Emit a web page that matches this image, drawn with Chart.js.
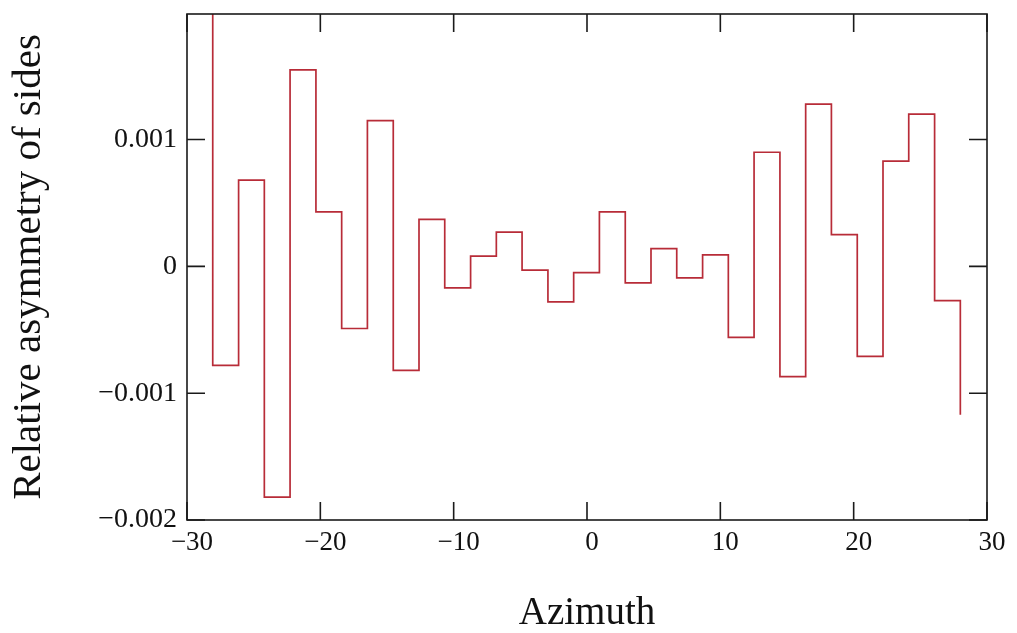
<!DOCTYPE html>
<html>
<head>
<meta charset="utf-8">
<title>Relative asymmetry of sides</title>
<script src="https://cdn.jsdelivr.net/npm/chart.js@4.4.0/dist/chart.umd.min.js"></script>
<style>
    html, body { margin: 0; padding: 0; background: #fff; }
    .wrap { width: 1017px; height: 633px; position: relative; }
</style>
</head>
<body>
<div class="wrap"><canvas id="asymChart"></canvas></div>
<script>
// step trace: each value holds from its azimuth to the next one
const azimuth = [
    -30, -28.07, -26.13, -24.2, -22.27, -20.33, -18.4, -16.47, -14.53, -12.6,
    -10.67, -8.73, -6.8, -4.87, -2.93, -1, 0.93, 2.87, 4.8, 6.73,
    8.67, 10.6, 12.53, 14.47, 16.4, 18.33, 20.27, 22.2, 24.13, 26.07, 28
];

const asymmetry = [
    0.0021, -0.00078, 0.00068, -0.00182, 0.00155, 0.00043, -0.00049, 0.00115, -0.00082, 0.00037,
    -0.00017, 0.00008, 0.00027, -0.00003, -0.00028, -0.00005, 0.00043, -0.00013, 0.00014, -0.00009,
    0.00009, -0.00056, 0.00090, -0.00087, 0.00128, 0.00025, -0.00071, 0.00083, 0.00120, -0.00027,
    -0.00117
];

const xTickValues = [-30, -20, -10, 0, 10, 20, 30];
const yTickValues = [-0.002, -0.001, 0, 0.001];

const SERIF = '"Liberation Serif", "Times New Roman", serif';
const INK = "#111";
const TICK_LEN = 18;

// box around the plot with inward ticks on all four sides
const frameTicks = {
    id: "frameTicks",
    afterDatasetsDraw(chart) {
        const { ctx, chartArea: a, scales: { x, y } } = chart;
        ctx.save();
        ctx.strokeStyle = "#1a1a1a";
        ctx.lineWidth = 1.6;
        ctx.strokeRect(a.left, a.top, a.right - a.left, a.bottom - a.top);
        ctx.beginPath();
        x.ticks.forEach(t => {
            const px = x.getPixelForValue(t.value);
            ctx.moveTo(px, a.bottom); ctx.lineTo(px, a.bottom - TICK_LEN);
            ctx.moveTo(px, a.top); ctx.lineTo(px, a.top + TICK_LEN);
        });
        y.ticks.forEach(t => {
            const py = y.getPixelForValue(t.value);
            ctx.moveTo(a.left, py); ctx.lineTo(a.left + TICK_LEN, py);
            ctx.moveTo(a.right, py); ctx.lineTo(a.right - TICK_LEN, py);
        });
        ctx.stroke();
        ctx.restore();
    }
};

const fmt = v => String(v).replace("-", "\u2212");

new Chart(document.getElementById("asymChart"), {
    type: "line",
    data: {
        datasets: [{
            data: azimuth.map((x, i) => ({ x, y: asymmetry[i] })),
            stepped: true,
            borderColor: "#b82c38",
            borderWidth: 1.7,
            pointRadius: 0,
            fill: false,
            clip: 0
        }]
    },
    options: {
        responsive: true,
        maintainAspectRatio: false,
        animation: false,
        layout: { padding: { left: 0, top: 14, right: 30, bottom: 0 } },
        plugins: { legend: { display: false }, tooltip: { enabled: false } },
        scales: {
            x: {
                type: "linear",
                min: -30,
                max: 30,
                afterBuildTicks: s => { s.ticks = xTickValues.map(value => ({ value })); },
                afterFit: s => {
                    s.height = 113;
                    s.paddingLeft = 0;
                    s.paddingRight = 0;
                },
                grid: { display: false, drawTicks: false },
                border: { display: false },
                ticks: {
                    color: INK,
                    padding: 7,
                    labelOffset: 5,
                    maxRotation: 0,
                    font: { family: SERIF, size: 27 },
                    callback: v => fmt(v)
                },
                title: {
                    display: true,
                    text: "Azimuth",
                    color: INK,
                    font: { family: SERIF, size: 39, lineHeight: 1 },
                    padding: { top: 0, bottom: 0 }
                }
            },
            y: {
                type: "linear",
                min: -0.002,
                max: 0.00199,
                afterBuildTicks: s => { s.ticks = yTickValues.map(value => ({ value })); },
                afterFit: s => {
                    s.width = 187;
                    s.paddingTop = 0;
                    s.paddingBottom = 0;
                },
                grid: { display: false, drawTicks: false },
                border: { display: false },
                ticks: {
                    color: INK,
                    padding: 10,
                    font: { family: SERIF, size: 28 },
                    callback: v => fmt(v)
                },
                title: {
                    display: true,
                    text: "Relative asymmetry of sides",
                    color: INK,
                    font: { family: SERIF, size: 41, lineHeight: 1 },
                    padding: { top: 9, bottom: 0 }
                }
            }
        }
    },
    plugins: [frameTicks]
});
</script>
</body>
</html>
